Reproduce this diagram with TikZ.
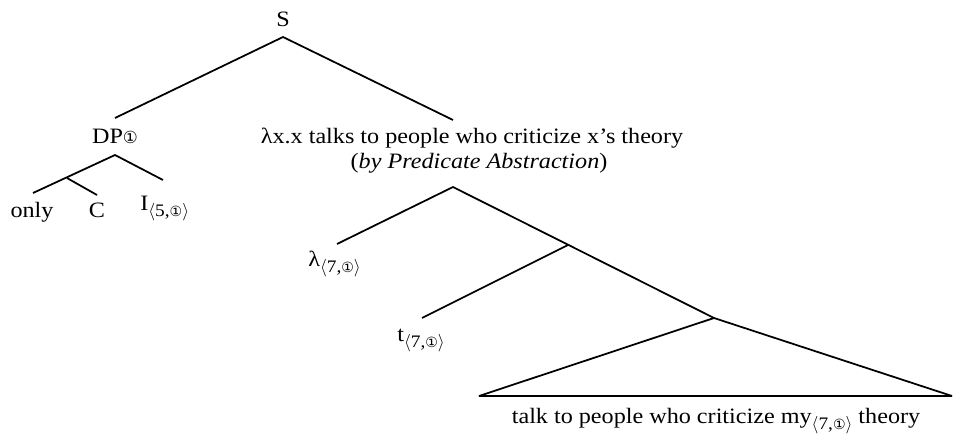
\documentclass[tikz,border=0pt]{standalone}
\usepackage{fontspec}
\setmainfont{Liberation Serif}[FakeStretch=1.1]
\newfontfamily\circfont{DejaVu Sans}
\usetikzlibrary{positioning}
\newcommand{\cone}{{\circfont\char"2460}}
\newcommand{\pairsub}[1]{\raisebox{-0.65ex}{\fontsize{10}{11}\selectfont$\langle$#1,{\fontsize{8}{9}\selectfont\cone}$\rangle$}}

\begin{document}
\begin{tikzpicture}[
    x={(0.02cm,0)}, y={(0,-0.02cm)},
    every node/.style={font=\fontsize{12.5}{14}\selectfont, inner sep=0pt},
    label/.style={anchor=base},
    leaf/.style={anchor=base west},
    branch/.style={line width=1pt}
]
\useasboundingbox (0,0) rectangle (953,436);

% Labels
\node[label] (S) at (283,27) {S};
\node[label] (dp) at (115,143) {DP{\fontsize{9.5}{10}\selectfont\cone}};
\node[label] (pred) at (472,143) {λx.x talks to people who criticize x’s theory};
\node[label] (rule) at (479,168) {(\textit{by Predicate Abstraction})};
\node[label] (only) at (32,217) {only};
\node[label] (C) at (97,217) {C};
\node[leaf] (I) at (140,210) {I\pairsub{5}};
\node[leaf] (lam) at (308,266) {λ\pairsub{7}};
\node[leaf] (t) at (397,341) {t\pairsub{7}};
\node[label] (vp) at (716,423) {talk to people who criticize my\pairsub{7} theory};

% Junctions
\coordinate (sj) at (283,37);
\coordinate (dpl) at (115,118);
\coordinate (predl) at (453,120);
\coordinate (dpj) at (115,155);
\coordinate (onlyj) at (33,193);
\coordinate (cj) at (67,178);
\coordinate (ce) at (97,195);
\coordinate (ie) at (163,180);
\coordinate (pj) at (453,187);
\coordinate (lame) at (337,244);
\coordinate (mj) at (568,245);
\coordinate (te) at (422,318);
\coordinate (vj) at (714,318);
\coordinate (vl) at (479,396);
\coordinate (vr) at (952,396);

% Branches
\draw[branch] (dpl) -- (sj) -- (predl);
\draw[branch] (onlyj) -- (dpj) -- (ie);
\draw[branch] (cj) -- (ce);
\draw[branch] (lame) -- (pj) -- (vj);
\draw[branch] (te) -- (mj);
\draw[branch, line join=bevel] (vj) -- (vl) -- (vr) -- cycle;

\end{tikzpicture}
\end{document}
